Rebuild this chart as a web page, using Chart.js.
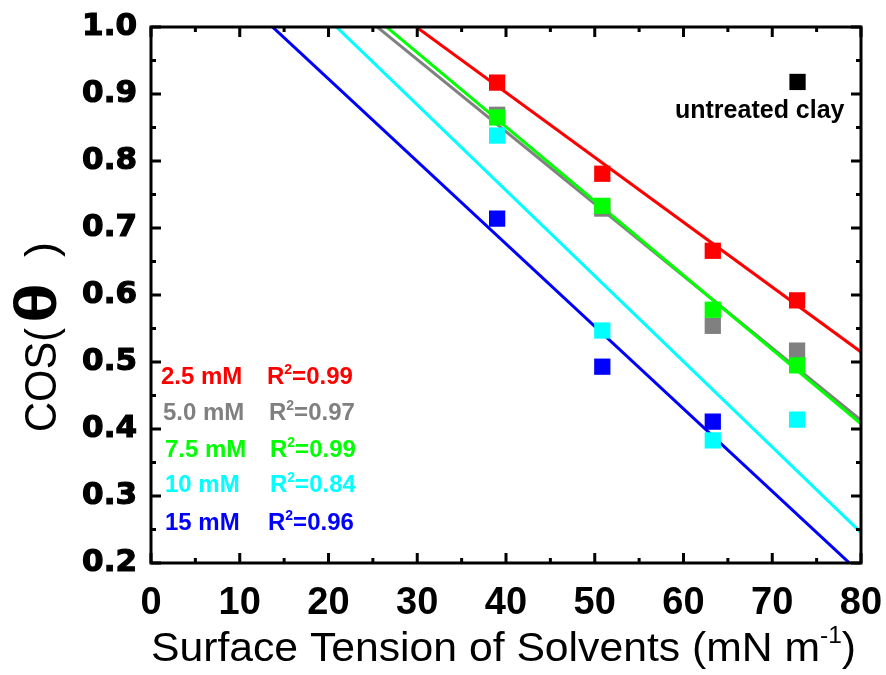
<!DOCTYPE html>
<html>
<head>
<meta charset="utf-8">
<script src="https://cdn.jsdelivr.net/npm/chart.js@4/dist/chart.umd.min.js"></script>
<style>
html,body{margin:0;padding:0;background:#fff;}
#wrap{width:886px;height:675px;position:relative;}
</style>
</head>
<body>
<div id="wrap"><canvas id="c" width="886" height="675"></canvas></div>
<script>
// ---- data ----
const surfaceTension = [39.0, 50.85, 63.3, 72.8];
const cos2_5mM = [0.917, 0.781, 0.666, 0.592];
const cos5_0mM = [0.869, 0.729, 0.554, 0.517];
const cos7_5mM = [0.865, 0.733, 0.578, 0.495];
const cos10mM  = [0.838, 0.547, 0.383, 0.414];
const cos15mM  = [0.714, 0.493, 0.411, null];
const untreatedX = [72.85];
const untreatedY = [0.918];
// linear fits: cos = intercept + slope * tension
const fitIntercept = [1.2894, 1.2746, 1.2942, 1.2669, 1.1686];
const fitSlope     = [-0.00968, -0.01077, -0.01108, -0.01277, -0.012308];
const seriesNames = ['2.5 mM', '5.0 mM', '7.5 mM', '10 mM', '15 mM'];
const r2Values    = ['0.99', '0.97', '0.99', '0.84', '0.96'];
const seriesColors = ['#ff0000', '#808080', '#00ff00', '#00ffff', '#0000ff'];
const xTickValues = [0, 10, 20, 30, 40, 50, 60, 70, 80];
const yTickValues = [0.2, 0.3, 0.4, 0.5, 0.6, 0.7, 0.8, 0.9, 1.0];
const xRange = [0, 80];
const yRange = [0.2, 1.0];
const untreatedLabel = 'untreated clay';

const allY = [cos2_5mM, cos5_0mM, cos7_5mM, cos10mM, cos15mM];
const pointOrder = [3, 2, 1, 5, 4];

const datasets = [];
allY.forEach((ys, i) => {
  datasets.push({
    type: 'scatter',
    data: surfaceTension.map((x, k) => ({x: x, y: ys[k]})).filter(p => p.y !== null),
    backgroundColor: seriesColors[i],
    borderWidth: 0,
    pointStyle: 'rect',
    pointRadius: 11.5,
    order: pointOrder[i]
  });
  datasets.push({
    type: 'line',
    data: xRange.map(x => ({x: x, y: fitIntercept[i] + fitSlope[i] * x})),
    borderColor: seriesColors[i],
    borderWidth: 3,
    pointRadius: 0,
    fill: false,
    order: 20 - i
  });
});
datasets.push({
  type: 'scatter',
  data: untreatedX.map((x, k) => ({x: x, y: untreatedY[k]})),
  backgroundColor: '#000000',
  borderWidth: 0,
  pointStyle: 'rect',
  pointRadius: 11.5,
  order: 0
});

const SANS = '"Liberation Sans", Arial, sans-serif';
const NARROW = '"Liberation Sans Narrow", "Arial Narrow", "Liberation Sans", Arial, sans-serif';

const frame = {
  id: 'frame',
  afterDraw(chart) {
    const ctx = chart.ctx, a = chart.chartArea;
    const xs = chart.scales.x, ys = chart.scales.y;
    ctx.save();
    ctx.strokeStyle = '#000';
    ctx.lineWidth = 3;
    ctx.lineCap = 'butt';
    // ticks
    ctx.beginPath();
    for (let v = xRange[0]; v <= xRange[1] + 1e-9; v += 5) {
      const px = xs.getPixelForValue(v);
      const len = (Math.round(v) % 10 === 0) ? 10 : 5;
      ctx.moveTo(px, a.bottom); ctx.lineTo(px, a.bottom - len);
      ctx.moveTo(px, a.top); ctx.lineTo(px, a.top + len);
    }
    for (let k = 0; k <= 16; k++) {
      const v = yRange[0] + k * 0.05;
      const py = ys.getPixelForValue(v);
      const len = (k % 2 === 0) ? 10 : 5;
      ctx.moveTo(a.left, py); ctx.lineTo(a.left + len, py);
      ctx.moveTo(a.right, py); ctx.lineTo(a.right - len, py);
    }
    ctx.stroke();
    ctx.strokeRect(a.left, a.top, a.right - a.left, a.bottom - a.top);

    // in-plot legend text
    const rows = [376, 412, 449, 484, 522];
    const nameX = [161, 163, 165, 165, 165];
    const rX = [267, 269, 270, 270, 268];
    ctx.textBaseline = 'alphabetic';
    ctx.textAlign = 'left';
    rows.forEach((cy, i) => {
      ctx.fillStyle = seriesColors[i];
      const base = cy + 8;
      ctx.font = 'bold 24px ' + SANS;
      ctx.fillText(seriesNames[i], nameX[i], base);
      let x = rX[i];
      ctx.fillText('R', x, base);
      x += ctx.measureText('R').width;
      ctx.font = 'bold 14px ' + SANS;
      ctx.fillText('2', x, base - 10);
      x += ctx.measureText('2').width;
      ctx.font = 'bold 24px ' + SANS;
      ctx.fillText('=' + r2Values[i], x, base);
    });
    // untreated clay label
    ctx.fillStyle = '#000';
    ctx.font = 'bold 25px ' + SANS;
    ctx.fillText(untreatedLabel, 675, 118);

    // x axis title
    ctx.save();
    const t1 = 'Surface Tension of Solvents (mN m';
    const big = '40px ' + SANS, small = '23px ' + SANS;
    ctx.font = big;
    const w1 = ctx.measureText(t1).width;
    ctx.font = small;
    const w2 = ctx.measureText('-1').width;
    ctx.font = big;
    const w3 = ctx.measureText(')').width;
    const total = w1 + w2 + w3;
    const sx = (856 - 151) / total;
    ctx.translate(151, 661);
    ctx.scale(sx, 1);
    ctx.fillText(t1, 0, 0);
    ctx.font = small;
    ctx.fillText('-1', w1, -18);
    ctx.font = big;
    ctx.fillText(')', w1 + w2, 0);
    ctx.restore();

    // y axis title
    ctx.save();
    ctx.translate(56, 432);
    ctx.rotate(-Math.PI / 2);
    ctx.font = '45px ' + SANS;
    const wc = ctx.measureText('COS(').width;
    ctx.save(); ctx.scale(104 / wc, 1); ctx.fillText('COS(', 0, 0); ctx.restore();
    ctx.font = 'bold 60px ' + SANS;
    const wt = ctx.measureText('θ').width;
    ctx.save(); ctx.translate(109, 0); ctx.scale(40 / wt, 1); ctx.fillText('θ', 0, 0); ctx.restore();
    ctx.font = '45px ' + SANS;
    ctx.fillText(')', 175, 0);
    ctx.restore();

    ctx.restore();
  }
};

new Chart(document.getElementById('c'), {
  data: {datasets: datasets},
  options: {
    responsive: false,
    animation: false,
    events: [],
    layout: {padding: {top: 27, right: 25, left: 0, bottom: 0}},
    plugins: {legend: {display: false}, tooltip: {enabled: false}},
    scales: {
      x: {
        type: 'linear', min: xRange[0], max: xRange[1],
        afterBuildTicks: s => { s.ticks = xTickValues.map(v => ({value: v})); },
        grid: {display: false, drawTicks: false},
        border: {display: false},
        ticks: {
          color: '#000', padding: 18,
          font: {family: NARROW, weight: 'bold', size: 38},
          callback: v => String(v)
        },
        afterFit: s => { s.height = 112; s.paddingLeft = 0; s.paddingRight = 0; }
      },
      y: {
        type: 'linear', min: yRange[0], max: yRange[1],
        afterBuildTicks: s => { s.ticks = yTickValues.map(v => ({value: v})); },
        grid: {display: false, drawTicks: false},
        border: {display: false},
        ticks: {
          color: '#000', padding: 14,
          font: {family: '"DejaVu Sans", sans-serif', weight: 'bold', size: 31},
          textStrokeColor: '#000', textStrokeWidth: 1.2,
          callback: v => Number(v).toFixed(1)
        },
        afterFit: s => { s.width = 151; s.paddingTop = 0; s.paddingBottom = 0; }
      }
    }
  },
  plugins: [frame]
});
</script>
</body>
</html>
